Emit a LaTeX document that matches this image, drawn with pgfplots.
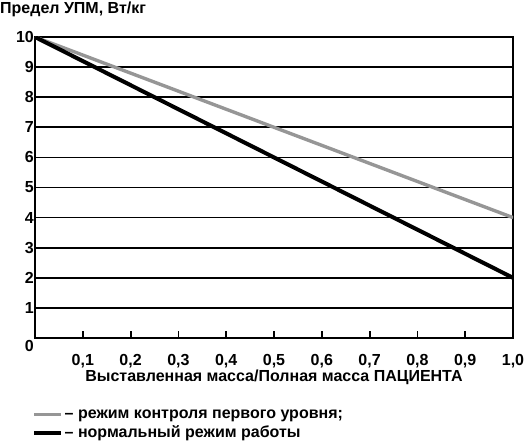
\documentclass[border=0pt]{standalone}
\usepackage{fontspec}
\setmainfont{Liberation Sans}
\usepackage{pgfplots}
\pgfplotsset{compat=1.18}
\usetikzlibrary{calc}

\definecolor{lvlone}{RGB}{150,150,150}

\begin{document}
\begin{tikzpicture}
\begin{axis}[
    name=ax,
    scale only axis,
    width=478pt, height=301pt,
    xmin=0, xmax=1, ymin=0, ymax=10,
    font=\bfseries\fontsize{16}{18}\selectfont,
    /pgf/number format/assume math mode=true,
    axis line style={black, line width=1.8pt},
    xtick={0.1,0.2,0.3,0.4,0.5,0.6,0.7,0.8,0.9,1.0},
    xticklabels={{0,1},{0,2},{0,3},{0,4},{0,5},{0,6},{0,7},{0,8},{0,9},{1,0}},
    xtick pos=bottom, tick align=inside,
    major tick length=7pt,
    xtick style={black, line width=1.8pt},
    xticklabel style={yshift=-13pt},
    ytick={1,2,3,4,5,6,7,8,9,10},
    extra y ticks={0},
    extra y tick style={yticklabel style={yshift=-8pt}, grid=none},
    ytick style={draw=none},
    yticklabel style={inner sep=1pt},
    ymajorgrids,
    major grid style={black, line width=1.6pt},
    xlabel={Выставленная масса/Полная масса ПАЦИЕНТА},
    xlabel style={yshift=5pt},
    title={Предел УПМ, Вт/кг},
    title style={at={(0,1)}, anchor=base west, xshift=-35pt, yshift=17pt, inner sep=0pt},
    legend image code/.code={\draw[#1] (0pt,0pt) -- (27pt,0pt);},
    legend cell align=left,
    legend style={at={(0,0)}, anchor=north west, xshift=-3pt, yshift=-70pt,
        draw=none, fill=none, row sep=3pt, inner sep=0pt,
        nodes={inner sep=1.5pt}},
]
\addplot[lvlone, line width=3.4pt] coordinates {(0,10) (1,4)};
\addlegendentry{– режим контроля первого уровня;}
\addplot[black, line width=4pt] coordinates {(0,10) (1,2)};
\addlegendentry{– нормальный режим работы}
\end{axis}
\useasboundingbox ($(ax.south west)+(-35pt,-104pt)$) rectangle ($(ax.north east)+(15pt,37pt)$);
\end{tikzpicture}
\end{document}
